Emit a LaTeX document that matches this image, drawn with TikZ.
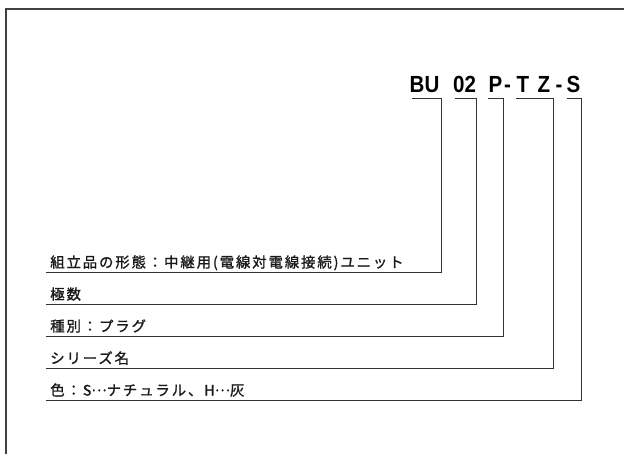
\documentclass[tikz,border=0pt]{standalone}
\usepackage{fontspec}
\setmainfont{Liberation Sans}
\newfontfamily\jpfont[LetterSpace=13,FakeBold=1.2]{Noto Sans CJK JP}
\newcommand{\middots}{\raisebox{0.3em}{…}}
\tikzset{
  frameline/.style={draw=black!75, line width=0.8pt},
  lead/.style={draw=black!80, line width=0.75pt},
  code/.style={anchor=base, inner sep=0pt, font=\fontsize{17.5pt}{20pt}\selectfont\bfseries, text=black},
  label/.style={anchor=base west, inner sep=0pt, font=\fontsize{10.8pt}{12pt}\selectfont\jpfont, text=black!90},
}
\begin{document}
\begin{tikzpicture}[x=0.75pt, y=-0.75pt]
\useasboundingbox (0,0) rectangle (624,454);
% frame
\draw[frameline] (6,454) -- (6,9) -- (624,9);
% code characters
\node[code] (bu)  at (424.5,92) {\scalebox{0.88}[1]{BU}};
\node[code] (n02) at (464.5,92) {\scalebox{0.88}[1]{02}};
\node[code] (p)   at (495.5,92) {\scalebox{0.88}[1]{P}};
\node[code] (d1)  at (507.5,92) {\scalebox{0.88}[1]{-}};
\node[code] (t)   at (523,92)   {\scalebox{0.88}[1]{T}};
\node[code] (z)   at (544,92)   {\scalebox{0.88}[1]{Z}};
\node[code] (d2)  at (559,92)   {\scalebox{0.88}[1]{-}};
\node[code] (s)   at (573.5,92) {\scalebox{0.88}[1]{S}};
% labels
\node[label] (c1) at (50,267.5) {組立品の形態：中継用(電線対電線接続)ユニット};
\node[label] (c2) at (50,299.5) {極数};
\node[label] (c3) at (50,331.5) {種別：プラグ};
\node[label] (c4) at (50,363.5) {シリーズ名};
\node[label] (c5) at (50,395.5) {色：S\middots ナチュラル、H\middots 灰};
% bracket coordinates
\coordinate (a1) at (412,98);  \coordinate (e1) at (441,272); \coordinate (f1) at (46,272);
\coordinate (a2) at (455,98);  \coordinate (e2) at (476,304); \coordinate (f2) at (46,304);
\coordinate (a3) at (488,98);  \coordinate (e3) at (503.5,336); \coordinate (f3) at (46,336);
\coordinate (a4) at (516,98);  \coordinate (e4) at (553,368); \coordinate (f4) at (46,368);
\coordinate (a5) at (567,98);  \coordinate (e5) at (581,400); \coordinate (f5) at (46,400);
\draw[lead] (a1) -| (e1) -- (f1);
\draw[lead] (a2) -| (e2) -- (f2);
\draw[lead] (a3) -| (e3) -- (f3);
\draw[lead] (a4) -| (e4) -- (f4);
\draw[lead] (a5) -| (e5) -- (f5);
\end{tikzpicture}
\end{document}
